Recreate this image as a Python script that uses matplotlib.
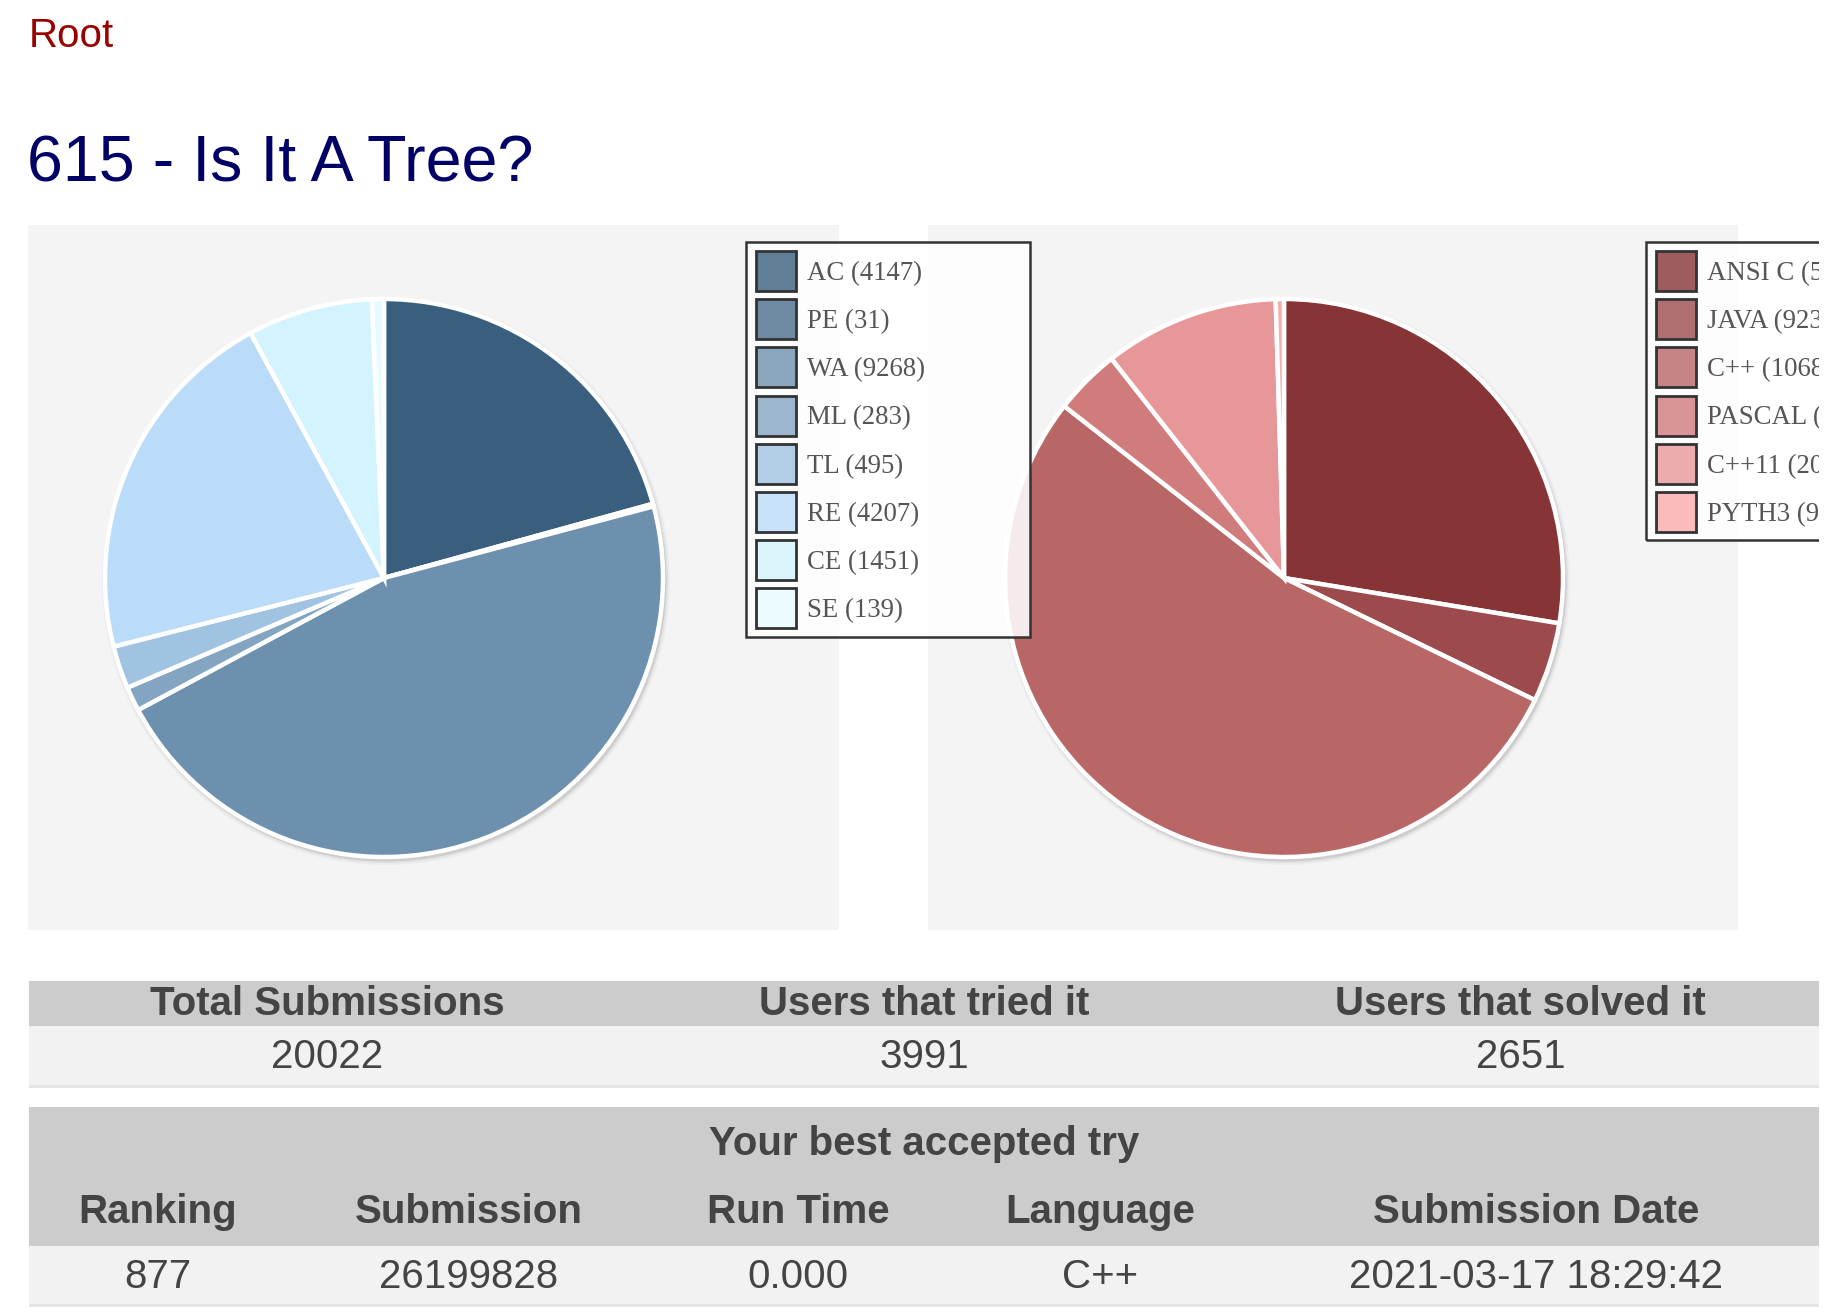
import matplotlib
matplotlib.use('Agg')
import matplotlib.pyplot as plt
from matplotlib.patches import Rectangle, Circle

# data
verdicts = ['AC', 'PE', 'WA', 'ML', 'TL', 'RE', 'CE', 'SE']
verdict_counts = [4147, 31, 9268, 283, 495, 4207, 1451, 139]
verdict_colors = ['#3a5f7e', '#4a6d8b', '#6d90ae', '#83a5c2', '#9fc3e1', '#badcf8', '#d3f3fe', '#e8fcff']

languages = ['ANSI C', 'JAVA', 'C++', 'PASCAL', 'C++11', 'PYTH3']
language_counts = [5526, 923, 10683, 766, 2029, 95]
language_colors = ['#873437', '#9c4a4c', '#b96667', '#d07b7c', '#e89798', '#faabab']

stats_headers = ['Total Submissions', 'Users that tried it', 'Users that solved it']
stats_values = ['20022', '3991', '2651']

best_title = 'Your best accepted try'
best_headers = ['Ranking', 'Submission', 'Run Time', 'Language', 'Submission Date']
best_values = ['877', '26199828', '0.000', 'C++', '2021-03-17 18:29:42']

W, H = 1840, 1316
VIEW = 1819  # page content is cut off at this x
fig = plt.figure(figsize=(W / 100, H / 100), dpi=100)
ax = fig.add_axes([0, 0, VIEW / W, 1])

def Y(y):
    # page coords (from top) -> axes coords (from bottom)
    return H - y

def box(x0, x1, y0, y1, **kw):
    ax.add_patch(Rectangle((x0, Y(y1)), x1 - x0, y1 - y0, **kw))

sans = 'Liberation Sans'
txt = '#444444'

ax.text(29, Y(47), 'Root', color='#990000', fontsize=29, family=sans, va='baseline')
ax.text(27, Y(181), '615 - Is It A Tree?', color='#000066', fontsize=46.5, family=sans, va='baseline')

# panels behind pies
box(28, 839, 225, 930, facecolor='#f4f4f4', edgecolor='none', zorder=0)
box(928, 1738, 225, 930, facecolor='#f4f4f4', edgecolor='none', zorder=0)

def draw_pie(cx, cy, r, vals, cols):
    for dr, a in [(5, 0.06), (3, 0.10), (1.5, 0.18)]:
        ax.add_patch(Circle((cx + 2, Y(cy) - 3), r + dr, color='#777777', alpha=a, lw=0, zorder=1))
    wedges, _ = ax.pie(vals, colors=cols, startangle=90, counterclock=False,
                       center=(cx, Y(cy)), radius=r, frame=True,
                       wedgeprops=dict(edgecolor='white', linewidth=3.2))
    for w in wedges:
        w.set_zorder(2)

draw_pie(384, 578, 279, verdict_counts, verdict_colors)
draw_pie(1284, 578, 279, language_counts, language_colors)

def draw_legend(x0, x1, y0, labels, counts, cols):
    step = 48.2
    y1 = y0 + 9 + step * len(labels)
    box(x0, x1, y0, y1, facecolor='white', alpha=0.88, edgecolor='none', zorder=3)
    box(x0, x1, y0, y1, facecolor='none', edgecolor='#333333', lw=1.8, zorder=4)
    for i, (lab, n, c) in enumerate(zip(labels, counts, cols)):
        top = y0 + 9 + step * i
        box(x0 + 10, x0 + 50, top, top + 40, facecolor=c, alpha=0.8, edgecolor='none', zorder=4)
        box(x0 + 10, x0 + 50, top, top + 40, facecolor='none', edgecolor='#333333', lw=2, zorder=5)
        ax.text(x0 + 61, Y(top + 29), f'{lab} ({n})', family='Liberation Serif', fontsize=19.3,
                color='#555555', va='baseline', zorder=5, clip_on=True)

draw_legend(746, 1030, 242, verdicts, verdict_counts, verdict_colors)
draw_legend(1646, 1950, 242, languages, language_counts, language_colors)

# stats table
tx0, tx1 = 29, 1819
box(tx0, tx1, 981, 1026, facecolor='#cccccc', edgecolor='none')
box(tx0, tx1, 1026, 1085, facecolor='#f2f2f2', edgecolor='none')
box(tx0, tx1, 1085, 1088, facecolor='#e5e5e5', edgecolor='none')
colw = (tx1 - tx0) / len(stats_headers)
for i, (h, v) in enumerate(zip(stats_headers, stats_values)):
    xc = tx0 + colw * (i + 0.5)
    ax.text(xc, Y(1015), h, family=sans, fontsize=29, weight='bold', color=txt, ha='center', va='baseline')
    ax.text(xc, Y(1068), v, family=sans, fontsize=29, color=txt, ha='center', va='baseline')

# best try table
box(tx0, tx1, 1107, 1246, facecolor='#cccccc', edgecolor='none')
box(tx0, tx1, 1246, 1304, facecolor='#f2f2f2', edgecolor='none')
box(tx0, tx1, 1304, 1307, facecolor='#e5e5e5', edgecolor='none')
ax.text((tx0 + tx1) / 2, Y(1155), best_title, family=sans, fontsize=29, weight='bold', color=txt,
        ha='center', va='baseline')
best_x = [158, 469, 798, 1100, 1536]
for xc, h, v in zip(best_x, best_headers, best_values):
    ax.text(xc, Y(1223), h, family=sans, fontsize=29, weight='bold', color=txt, ha='center', va='baseline')
    ax.text(xc, Y(1288), v, family=sans, fontsize=29, color=txt, ha='center', va='baseline')

ax.set_aspect('auto')
ax.set_xlim(0, VIEW)
ax.set_ylim(0, H)
ax.axis('off')

fig.savefig('out.png', dpi=100, facecolor='white')
